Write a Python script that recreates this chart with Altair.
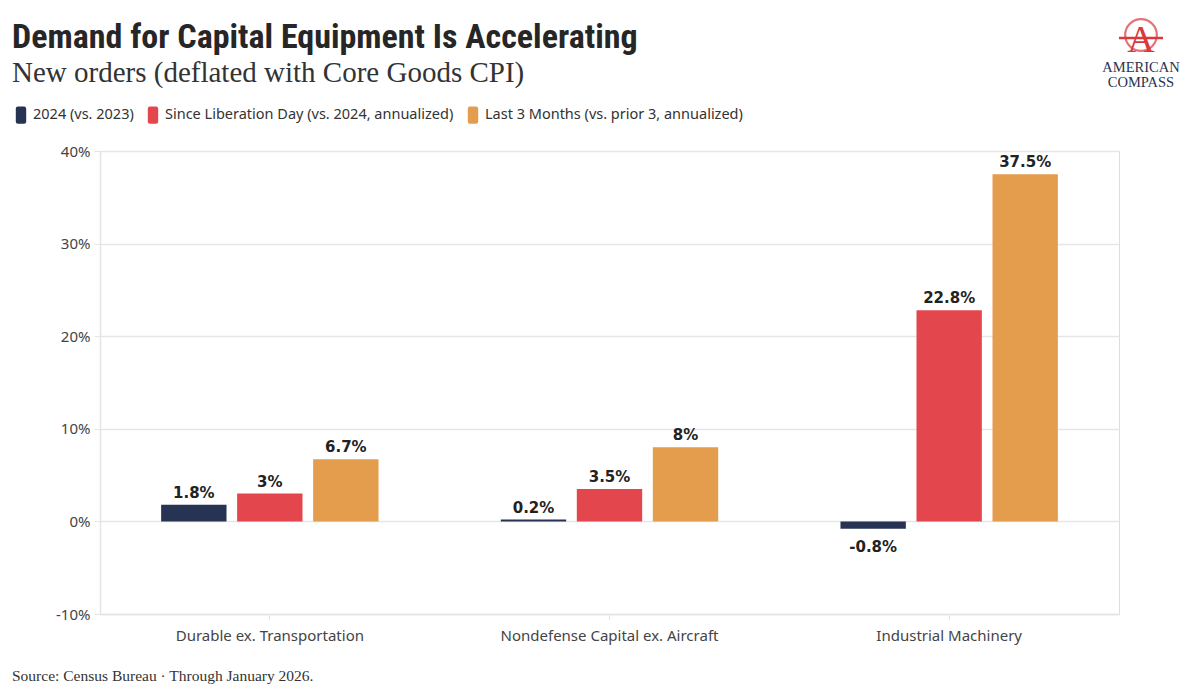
import altair as alt
import pandas as pd

categories = ["Durable ex. Transportation", "Nondefense Capital ex. Aircraft", "Industrial Machinery"]
series = ["2024 (vs. 2023)", "Since Liberation Day (vs. 2024, annualized)", "Last 3 Months (vs. prior 3, annualized)"]
v2024 = [1.8, 0.2, -0.8]
vlib = [3.0, 3.5, 22.8]
v3m = [6.7, 8.0, 37.5]
colors = ["#263353", "#e3474d", "#e49c4d"]
y_ticks = [-10, 0, 10, 20, 30, 40]

rows = []
for i, c in enumerate(categories):
    for s, vals in zip(series, [v2024, vlib, v3m]):
        v = vals[i]
        rows.append({"category": c, "series": s, "value": v, "label": f"{v:g}%"})
df = pd.DataFrame(rows)

W, H = 1019, 463
OX, OY = 100, 151  # plot origin on the page
sym = "M-0.35,-1 L0.35,-1 Q0.6,-1 0.6,-0.75 L0.6,0.75 Q0.6,1 0.35,1 L-0.35,1 Q-0.6,1 -0.6,0.75 L-0.6,-0.75 Q-0.6,-1 -0.35,-1 Z"

x_enc = alt.X("category:N", sort=categories, title=None,
              scale=alt.Scale(paddingInner=0.36, paddingOuter=0.18),
              axis=alt.Axis(labelAngle=0, labelFontSize=15, labelColor="#444",
                            labelFont="Noto Sans", labelPadding=8, labelLimit=0,
                            domainColor="#e4e4e4", tickColor="#e4e4e4",
                            tickSize=6, domainWidth=1.5))
xo_enc = alt.XOffset("series:N", sort=series,
                     scale=alt.Scale(paddingInner=0.14, paddingOuter=0))
y_scale = alt.Scale(domain=[-10, 40], nice=False)

bars = alt.Chart(df).mark_bar(opacity=1).encode(
    x=x_enc,
    xOffset=xo_enc,
    y=alt.Y("value:Q", scale=y_scale, title=None,
            axis=alt.Axis(values=y_ticks, labelExpr="datum.value + '%'",
                          labelFontSize=15, labelColor="#444", labelFont="Noto Sans",
                          gridColor="#e6e6e6", gridWidth=1.5,
                          domainColor="#e4e4e4", domainWidth=1.5,
                          tickColor="#e4e4e4", tickSize=6, labelPadding=4)),
    color=alt.Color("series:N", sort=series,
                    scale=alt.Scale(domain=series, range=colors),
                    legend=alt.Legend(title=None, orient="none", direction="horizontal",
                                      legendX=-88, legendY=-45,
                                      symbolType=sym, symbolSize=300,
                                      symbolStrokeWidth=0, symbolOpacity=1,
                                      labelFontSize=14.5, labelColor="#333",
                                      labelFont="Noto Sans", labelOffset=3,
                                      labelLimit=0, columnPadding=10)),
)

text_pos = alt.Chart(df).transform_filter("datum.value >= 0").mark_text(
    dy=-12, fontSize=15, fontWeight="bold", color="#222", font="DejaVu Sans"
).encode(x=alt.X("category:N", sort=categories), xOffset=alt.XOffset("series:N", sort=series),
         y=alt.Y("value:Q", scale=y_scale), text="label:N")

text_neg = alt.Chart(df).transform_filter("datum.value < 0").mark_text(
    dy=18, fontSize=15, fontWeight="bold", color="#222", font="DejaVu Sans"
).encode(x=alt.X("category:N", sort=categories), xOffset=alt.XOffset("series:N", sort=series),
         y=alt.Y("value:Q", scale=y_scale), text="label:N")

title_df = pd.DataFrame({"t": ["Demand for Capital Equipment Is Accelerating"]})
title = alt.Chart(title_df).mark_text(
    align="left", baseline="alphabetic", fontSize=34, fontWeight="bold",
    font="Liberation Sans Narrow, Roboto Condensed, DejaVu Sans Condensed, sans-serif",
    color="#262626"
).encode(x=alt.value(12 - OX), y=alt.value(48 - OY), text="t:N")

sub_df = pd.DataFrame({"t": ["New orders (deflated with Core Goods CPI)"]})
subtitle = alt.Chart(sub_df).mark_text(
    align="left", baseline="alphabetic", fontSize=29, font="Liberation Serif",
    color="#333"
).encode(x=alt.value(12 - OX), y=alt.value(82 - OY), text="t:N")

note_df = pd.DataFrame({"t": ["Source: Census Bureau \u00b7 Through January 2026."]})
note = alt.Chart(note_df).mark_text(
    align="left", baseline="alphabetic", fontSize=15.5, font="Liberation Serif",
    color="#333"
).encode(x=alt.value(12 - OX), y=alt.value(681 - OY), text="t:N")

one = pd.DataFrame({"t": ["A"]})
logo_ring = alt.Chart(one).mark_point(
    shape="circle", filled=False, stroke="#d9383c", strokeWidth=2.2, size=1000
).encode(x=alt.value(1141 - OX), y=alt.value(35 - OY))
logo_arm = alt.Chart(one).mark_rule(color="#d9383c", strokeWidth=2.5).encode(
    x=alt.value(1119 - OX), x2=alt.value(1163 - OX), y=alt.value(38 - OY))
logo_a = alt.Chart(one).mark_text(
    align="center", baseline="alphabetic", fontSize=38, font="Liberation Serif",
    color="#d9383c"
).encode(x=alt.value(1141 - OX), y=alt.value(52 - OY), text="t:N")
logo_txt_df = pd.DataFrame({"t": ["AMERICAN", "COMPASS"], "yy": [72 - OY, 87 - OY]})
logo_txt = alt.Chart(logo_txt_df).mark_text(
    align="center", baseline="alphabetic", fontSize=14.5, font="Liberation Serif",
    color="#2a3352"
).encode(x=alt.value(1141 - OX), y=alt.Y("yy:Q", scale=None), text="t:N")

chart = alt.layer(bars, text_pos, text_neg, title, subtitle, note,
                  logo_ring, logo_arm, logo_a, logo_txt).properties(
    width=W, height=H,
    padding={"left": OX - 8, "top": OY - 8, "right": 73, "bottom": 76},
    autosize=alt.AutoSizeParams(type="none"),
).configure_view(stroke=None).configure(background="white")

chart.save("out.html", embed_options={"renderer": "svg", "actions": False})
